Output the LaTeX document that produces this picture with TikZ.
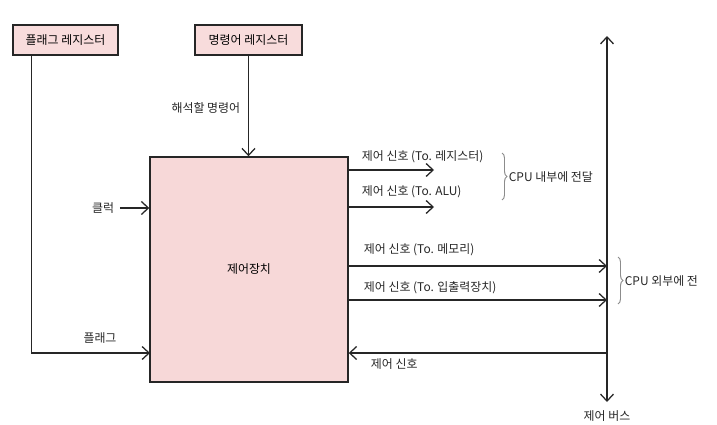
\documentclass[tikz,border=0pt]{standalone}
\usepackage{fontspec}
\newfontfamily\kr{Noto Sans CJK KR}
\usepackage{tikz}
\usetikzlibrary{arrows.meta,positioning,calc,decorations.pathreplacing}
\definecolor{regpink}{HTML}{F8DCDC}
\definecolor{cupink}{HTML}{F7D8D8}
\definecolor{ink}{HTML}{262626}
\tikzset{
  >={Straight Barb[length=3.5mm,width=6.5mm]},
  % blokke
  reg/.style={draw=ink,fill=regpink,line width=2pt,minimum height=15mm,
              inner sep=0pt,font=\kr\fontsize{17}{20}\selectfont},
  cu/.style={draw=ink,fill=cupink,line width=2pt,minimum width=99mm,
             minimum height=112.5mm,inner sep=0pt,font=\kr\fontsize{17}{20}\selectfont},
  % signaler
  sig/.style={->,draw=ink,line width=1.8pt},
  lbl/.style={font=\kr\fontsize{17}{20}\selectfont,inner sep=1pt,text=ink},
  brc/.style={decorate,decoration={brace,amplitude=2.5mm},draw=black!45,line width=1.4pt},
}
\begin{document}
\begin{tikzpicture}[x=0.5mm,y=-0.5mm]
\useasboundingbox (0,0) rectangle (717,424);
  \node[reg,minimum width=52.5mm] (flagreg) at (65.5,40) {플래그 레지스터};
  \node[reg,minimum width=53.5mm] (instreg) at (248.5,40) {명령어 레지스터};
  \node[cu] (cu) at (249,269.5) {제어장치};
  % bus
  \coordinate (bustop) at (607,36);
  \coordinate (busbot) at (607,402);
  \draw[sig,<->] (busbot) -- (bustop);
  \node[lbl] (buslbl) at (607,416) {제어 버스};
  % input
  \node[lbl,anchor=east] (decode) at (241,108) {해석할 명령어};
  \draw[sig] (instreg.south) -- (instreg.south |- cu.north);
  \node[lbl] (clk) at (103,208) {클럭};
  \draw[sig] ($(clk.east)+(5,0)$) -- (clk.east -| cu.west);
  \coordinate (flagin) at (150,353);
  \draw[sig] ($(flagreg.south west)+(19,0)$) |- (flagin);
  \node[lbl] (flaglbl) at (100,338) {플래그};
  % inside CPU
  \coordinate (toreg) at (434,170);
  \coordinate (toalu) at (434,207);
  \draw[sig] (toreg -| cu.east) -- (toreg);
  \draw[sig] (toalu -| cu.east) -- (toalu);
  \node[lbl,anchor=west] (lreg) at (361,157) {제어 신호 (To. 레지스터)};
  \node[lbl,anchor=west] (lalu) at (361,192) {제어 신호 (To. ALU)};
  \draw[brc] (502,153) -- (502,200);
  \node[lbl,anchor=west] (inner) at (508,177) {CPU 내부에 전달};
  % outside CPU
  \coordinate (tomem) at (bustop |- 0,266);
  \coordinate (toio) at (bustop |- 0,300);
  \draw[sig] (tomem -| cu.east) -- (tomem);
  \draw[sig] (toio -| cu.east) -- (toio);
  \node[lbl,anchor=west] (lmem) at (363,250) {제어 신호 (To. 메모리)};
  \node[lbl,anchor=west] (lio) at (363,288) {제어 신호 (To. 입출력장치)};
  \draw[brc] (618,257) -- (618,304);
  \node[lbl,anchor=west] (outer) at (624,281) {CPU 외부에 전};
  % back from bus
  \coordinate (frombus) at (bustop |- 0,353);
  \draw[sig] (frombus) -- (frombus -| cu.east);
  \node[lbl,anchor=west] (lback) at (370,364) {제어 신호};
\end{tikzpicture}
\end{document}
